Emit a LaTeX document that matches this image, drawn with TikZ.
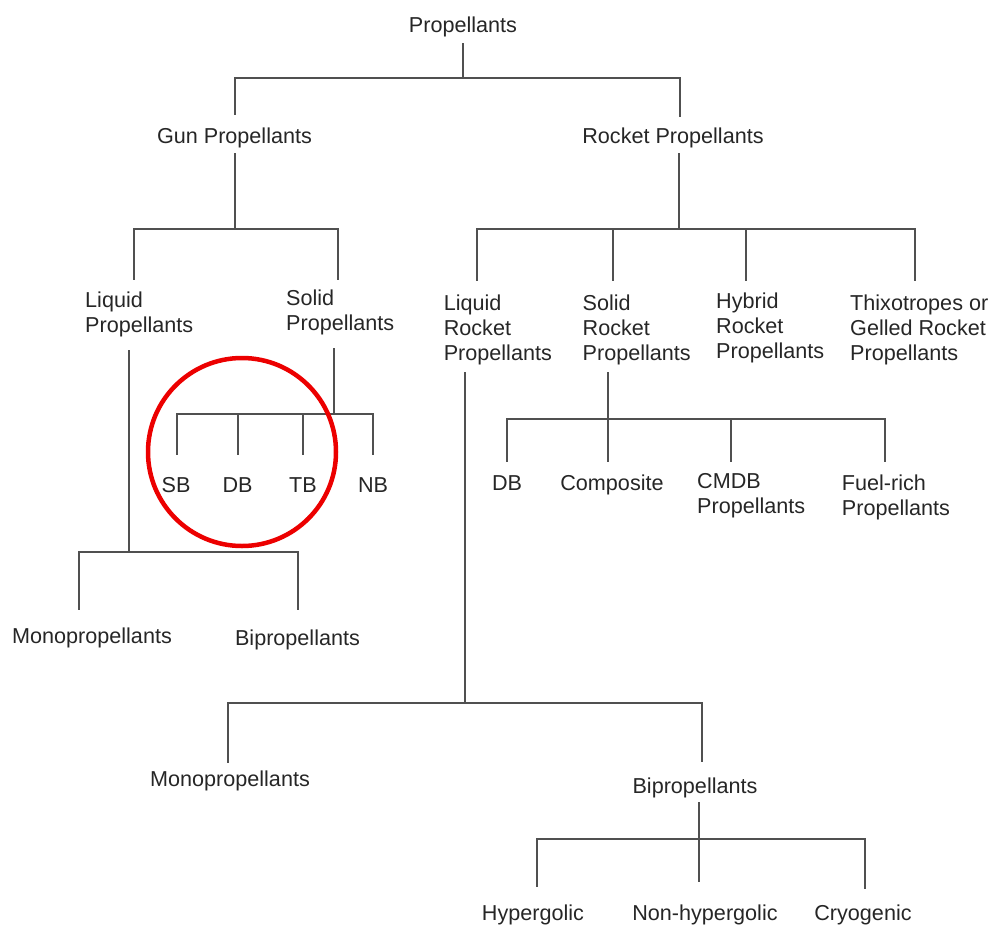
\documentclass[tikz,border=0pt]{standalone}
\usepackage{fontspec}
\setmainfont{Liberation Sans}
\definecolor{inkgray}{RGB}{38,38,38}
\definecolor{linegray}{RGB}{80,80,80}
\definecolor{ringred}{RGB}{236,0,0}
\tikzset{
  lbl/.style={inner sep=0pt, anchor=base, text=inkgray, font=\fontsize{21.6}{25}\selectfont},
  lbll/.style={lbl, anchor=base west, align=left},
  link/.style={draw=linegray, line width=2pt},
}
\newcommand{\lbl}[4]{\node[lbl] (#1) at (#2,#3) {#4};}
\newcommand{\lbll}[4]{\node[lbll] (#1) at (#2,#3) {#4};}
\begin{document}
\begin{tikzpicture}[x=1pt,y=-1pt]
        \useasboundingbox (0,0) rectangle (990,924);
        % level 0
        \lbl{prop}{463}{32}{Propellants}
        % level 1
        \lbl{gun}{234.5}{143}{Gun Propellants}
        \lbl{rock}{673}{143}{Rocket Propellants}
        % level 2 (base = last line)
        \lbll{liq}{85}{332}{Liquid\\Propellants}
        \lbll{sol}{286}{330}{Solid\\Propellants}
        \lbll{lrp}{443.6}{360}{Liquid\\Rocket\\Propellants}
        \lbll{srp}{582.5}{360}{Solid\\Rocket\\Propellants}
        \lbll{hrp}{716}{358}{Hybrid\\Rocket\\Propellants}
        \lbll{thx}{850}{360}{Thixotropes or\\Gelled Rocket\\Propellants}
        % gun solids
        \lbl{sb}{176}{492}{SB}
        \lbl{gdb}{237.5}{492}{DB}
        \lbl{tb}{303}{492}{TB}
        \lbl{nb}{373}{492}{NB}
        % rocket solids
        \lbl{rdb}{507}{490}{DB}
        \lbl{comp}{612}{490}{Composite}
        \lbll{cmdb}{697}{513}{CMDB\\Propellants}
        \lbll{fuel}{841.7}{515}{Fuel-rich\\Propellants}
        % gun liquids
        \lbl{gmono}{92}{643}{Monopropellants}
        \lbl{gbi}{297.5}{645}{Bipropellants}
        % rocket liquids
        \lbl{rmono}{230}{786}{Monopropellants}
        \lbl{rbi}{695}{793}{Bipropellants}
        \lbl{hyp}{533}{920}{Hypergolic}
        \lbl{nonh}{705}{920}{Non-hypergolic}
        \lbl{cry}{863}{920}{Cryogenic}

        % links level 1
        \draw[link] ([shift={(0,11)}]prop.base) -- ++(0,35) -| ([shift={(0.5,-28)}]gun.base);
        \draw[link] ([shift={(0,11)}]prop.base) -- ++(0,35) -| ([shift={(6.5,-26)}]rock.base);
        % links gun
        \draw[link] ([shift={(0.5,10)}]gun.base) -- ++(0,76) -| ([shift={(49,-52)}]liq.base west);
        \draw[link] ([shift={(0.5,10)}]gun.base) -- ++(0,76) -| ([shift={(52,-50)}]sol.base west);
        % links rocket
        \draw[link] ([shift={(6,10)}]rock.base) -- ++(0,76) -| ([shift={(33.4,-79)}]lrp.base west);
        \draw[link] ([shift={(6,10)}]rock.base) -- ++(0,76) -| ([shift={(30.5,-79)}]srp.base west);
        \draw[link] ([shift={(6,10)}]rock.base) -- ++(0,76) -| ([shift={(30,-77)}]hrp.base west);
        \draw[link] ([shift={(6,10)}]rock.base) -- ++(0,76) -| ([shift={(65,-79)}]thx.base west);
        % links gun solid
        \draw[link] ([shift={(48,18)}]sol.base west) -- ++(0,66) -| ([shift={(1,-37)}]sb.base);
        \draw[link] ([shift={(48,18)}]sol.base west) -- ++(0,66) -| ([shift={(0.5,-37)}]gdb.base);
        \draw[link] ([shift={(48,18)}]sol.base west) -- ++(0,66) -| ([shift={(0,-37)}]tb.base);
        \draw[link] ([shift={(48,18)}]sol.base west) -- ++(0,66) -| ([shift={(0,-37)}]nb.base);
        % links gun liquid
        \draw[link] ([shift={(44,18)}]liq.base west) -- ++(0,202) -| ([shift={(-13,-33)}]gmono.base);
        \draw[link] ([shift={(44,18)}]liq.base west) -- ++(0,202) -| ([shift={(0.5,-35)}]gbi.base);
        % links rocket solid
        \draw[link] ([shift={(25.5,12)}]srp.base west) -- ++(0,47) -| ([shift={(0,-28)}]rdb.base);
        \draw[link] ([shift={(25.5,12)}]srp.base west) -- ++(0,47) -| ([shift={(-4,-28)}]comp.base);
        \draw[link] ([shift={(25.5,12)}]srp.base west) -- ++(0,47) -| ([shift={(34,-51)}]cmdb.base west);
        \draw[link] ([shift={(25.5,12)}]srp.base west) -- ++(0,47) -| ([shift={(43.3,-53)}]fuel.base west);
        % links rocket liquid
        \draw[link] ([shift={(21.4,12)}]lrp.base west) -- ++(0,331) -| ([shift={(-2,-23)}]rmono.base);
        \draw[link] ([shift={(21.4,12)}]lrp.base west) -- ++(0,331) -| ([shift={(7,-31)}]rbi.base);
        % links bipropellants
        \draw[link] ([shift={(4,9)}]rbi.base) -- ++(0,37) -| ([shift={(4,-33)}]hyp.base);
        \draw[link] ([shift={(4,9)}]rbi.base) -- ++(0,37) -| ([shift={(-6,-38)}]nonh.base);
        \draw[link] ([shift={(4,9)}]rbi.base) -- ++(0,37) -| ([shift={(2,-31)}]cry.base);

        % ring
        \draw[ringred, line width=4.5pt] (242,452) circle[radius=94];
\end{tikzpicture}
\end{document}
